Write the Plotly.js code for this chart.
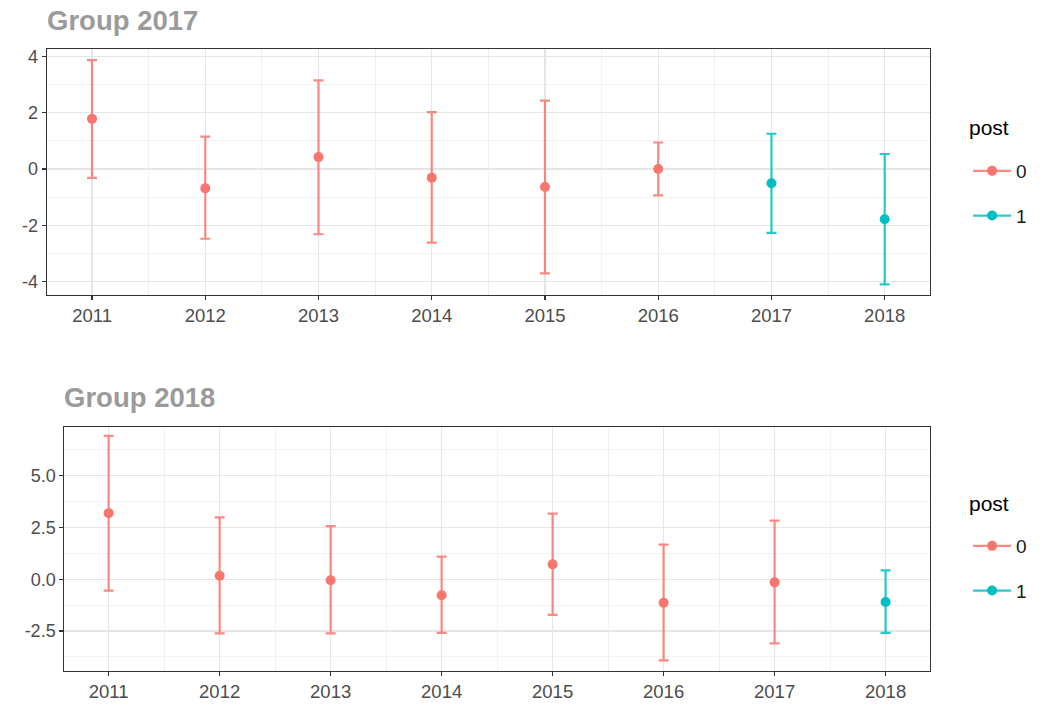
<!DOCTYPE html>
<html>
<head>
<meta charset="utf-8">
<script src="https://cdn.plot.ly/plotly-3.0.1.min.js"></script>
<style>html,body{margin:0;padding:0;background:#fff;}#chart{width:1050px;height:715px;}</style>
</head>
<body>
<div id="chart"></div>
<script>
// ---- data ----
const years = [2011, 2012, 2013, 2014, 2015, 2016, 2017, 2018];

const postTop  = [0, 0, 0, 0, 0, 0, 1, 1];
const estTop   = [1.78, -0.69, 0.42, -0.31, -0.64, 0.00, -0.51, -1.79];
const upperTop = [3.87, 1.15, 3.15, 2.02, 2.43, 0.94, 1.25, 0.53];
const lowerTop = [-0.32, -2.48, -2.32, -2.62, -3.71, -0.94, -2.27, -4.10];

const postBottom  = [0, 0, 0, 0, 0, 0, 0, 1];
const estBottom   = [3.19, 0.17, -0.05, -0.77, 0.72, -1.13, -0.15, -1.10];
const upperBottom = [6.92, 2.99, 2.56, 1.09, 3.17, 1.67, 2.83, 0.43];
const lowerBottom = [-0.55, -2.61, -2.61, -2.59, -1.72, -3.91, -3.09, -2.59];

const panelTitles = ['Group 2017', 'Group 2018'];
const legendTitle = 'post';
const postLevels = [0, 1];
const topTickVals = [-4, -2, 0, 2, 4];
const topTickText = ['-4', '-2', '0', '2', '4'];
const bottomTickVals = [-2.5, 0, 2.5, 5];
const bottomTickText = ['-2.5', '0.0', '2.5', '5.0'];

// ---- styles ----
const colors = {0: '#F8766D', 1: '#00BFC4'};
const barColors = {0: 'rgba(248,118,109,0.85)', 1: 'rgba(0,191,196,0.85)'};
const FONT = 'Liberation Sans, Arial, Helvetica, sans-serif';
const W = 1050, H = 715;

function panelTraces(post, est, upper, lower, xa, ya, legendName) {
  const traces = [];
  postLevels.forEach(function (lvl) {
    const x = [], y = [], plus = [], minus = [];
    for (let i = 0; i < years.length; i++) {
      if (post[i] === lvl) {
        x.push(years[i]);
        y.push(est[i]);
        plus.push(upper[i] - est[i]);
        minus.push(est[i] - lower[i]);
      }
    }
    traces.push({
      type: 'scatter', mode: 'markers', x: x, y: y,
      xaxis: xa, yaxis: ya, showlegend: false,
      marker: {color: colors[lvl], size: 10},
      error_y: {type: 'data', symmetric: false, array: plus, arrayminus: minus,
                color: barColors[lvl], thickness: 2.2, width: 5},
      hoverinfo: 'x+y'
    });
    // legend entry (line + dot key)
    traces.push({
      type: 'scatter', mode: 'lines+markers', x: [null], y: [null],
      xaxis: xa, yaxis: ya, name: String(lvl), legend: legendName,
      legendgroup: legendName + lvl, showlegend: true,
      marker: {color: colors[lvl], size: 10},
      line: {color: barColors[lvl], width: 2.2}
    });
  });
  return traces;
}

const data = [].concat(
  panelTraces(postTop, estTop, upperTop, lowerTop, 'x', 'y', 'legend'),
  panelTraces(postBottom, estBottom, upperBottom, lowerBottom, 'x2', 'y2', 'legend2')
);

const gridMajor = {showgrid: true, gridcolor: '#e6e6e6', gridwidth: 1.4};
const gridMinor = {showgrid: true, gridcolor: '#f2f2f2', gridwidth: 1, ticks: ''};

function xAxis(domain, anchor) {
  return Object.assign({
    domain: domain, anchor: anchor, range: [2010.6, 2018.4],
    tickmode: 'array', tickvals: years, ticktext: years.map(String),
    zeroline: false,
    minor: Object.assign({tickmode: 'linear', tick0: 2010.5, dtick: 1}, gridMinor),
    showline: true, mirror: true, linecolor: '#333333', linewidth: 1,
    ticks: 'outside', ticklen: 4, tickwidth: 1.2, tickcolor: '#333333',
    tickfont: {family: FONT, size: 18.5, color: '#4d4d4d'},
    fixedrange: true
  }, gridMajor);
}
function yAxis(domain, anchor, range, tv, tt, minorDtick, minorTick0) {
  return Object.assign({
    domain: domain, anchor: anchor, range: range,
    tickmode: 'array', tickvals: tv, ticktext: tt,
    zeroline: false,
    minor: Object.assign({tickmode: 'linear', tick0: minorTick0, dtick: minorDtick}, gridMinor),
    showline: true, mirror: true, linecolor: '#333333', linewidth: 1,
    ticks: 'outside', ticklen: 4, tickwidth: 1.2, tickcolor: '#333333',
    tickfont: {family: FONT, size: 18, color: '#4d4d4d'},
    fixedrange: true
  }, gridMajor);
}

const legendBase = {
  xanchor: 'left', yanchor: 'top', bgcolor: 'rgba(0,0,0,0)',
  font: {family: FONT, size: 19, color: '#1a1a1a'},
  traceorder: 'grouped', tracegroupgap: 17, itemwidth: 38
};

function textAnn(text, px, py, size, color) {
  return {text: text, xref: 'paper', yref: 'paper', x: px / W, y: 1 - py / H,
          xanchor: 'left', yanchor: 'middle', showarrow: false, borderpad: 0,
          font: {family: FONT, size: size, color: color}};
}

const layout = {
  width: W, height: H,
  margin: {l: 0, r: 0, t: 0, b: 0},
  paper_bgcolor: '#ffffff', plot_bgcolor: '#ffffff',
  font: {family: FONT},
  xaxis: xAxis([0.0445, 0.8857], 'y'),
  yaxis: yAxis([0.5878, 0.931], 'x', [-4.47, 4.25], topTickVals, topTickText, 1, 1),
  xaxis2: xAxis([0.0612, 0.8857], 'y2'),
  yaxis2: yAxis([0.062, 0.4032], 'x2', [-4.41, 7.36], bottomTickVals, bottomTickText, 1.25, 0),
  legend: Object.assign({}, legendBase, {x: 0.922, y: 1 - 152 / H}),
  legend2: Object.assign({}, legendBase, {x: 0.922, y: 1 - 527 / H}),
  annotations: [
    textAnn('<b>' + panelTitles[0] + '</b>', 46, 20, 27.5, '#9b9b9b'),
    textAnn('<b>' + panelTitles[1] + '</b>', 63, 397, 27.5, '#9b9b9b'),
    textAnn(legendTitle, 968, 127, 21, '#000000'),
    textAnn(legendTitle, 968, 503, 21, '#000000')
  ],
  showlegend: true
};

Plotly.newPlot('chart', data, layout, {displayModeBar: false, staticPlot: true});
</script>
</body>
</html>
